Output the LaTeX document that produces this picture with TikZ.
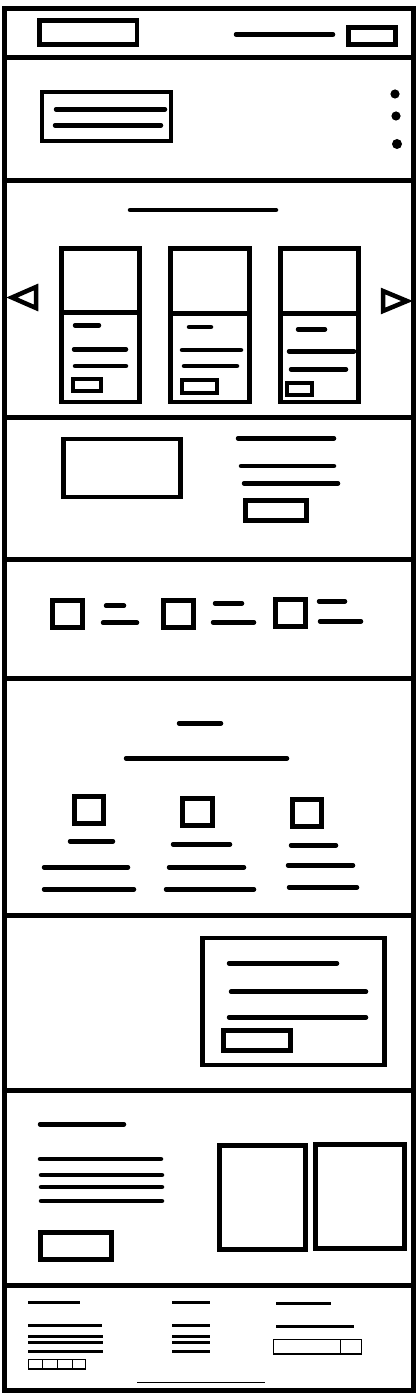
\documentclass[tikz,border=0pt]{standalone}
\begin{document}
\begin{tikzpicture}[x=1pt,y=-1pt,
  frame/.style={draw=black,line width=5pt},
  box/.style={draw=black,line width=4.5pt},
  bar/.style={draw=black,line width=4.5pt,line cap=round},
  fbar/.style={draw=black,line width=3pt},
  thin/.style={draw=black,line width=1.2pt}]
\useasboundingbox[fill=white] (0,0) rectangle (418,1396);
% outer frame and section dividers
\draw[frame] (4.5,8.5) rectangle (413.5,1390.5);
\foreach \y in {57.5,180.5,417,559.5,678.5,915,1090,1285.5}
  \draw[frame] (4.5,\y) -- (413.5,\y);
% header
\draw[box] (39.5,20.5) rectangle (137,44.5);
\draw[bar] (236,34.5) -- (333,34.5);
\draw[box] (348.5,27.5) rectangle (395.5,44.5);
% hero
\draw[box] (42,92) rectangle (171,141);
\draw[bar] (56,109.3) -- (165,109.3);
\draw[bar] (55,125.3) -- (161,125.3);
\fill (395,94) circle (4.6);
\fill (396,116) circle (4.6);
\fill (397,144) circle (5);
% carousel
\draw[bar] (130,210) -- (276,210);
\draw[box,line join=miter] (36,287) -- (12,297.5) -- (36,308) -- cycle;
\draw[box,line join=miter] (383,291) -- (407,301) -- (383,311) -- cycle;
% card 1
\draw[box] (61.3,248.3) rectangle (139.3,401.8);
\draw[box] (61.3,312.5) -- (139.3,312.5);
\draw[bar] (75,325.3) -- (99,325.3);
\draw[bar] (74,349.3) -- (126,349.3);
\draw[bar] (75,366) -- (126,366);
\draw[box] (73,379) rectangle (101,391);
% card 2
\draw[box] (170.5,248.3) rectangle (249.5,401.8);
\draw[box] (170.5,313.5) -- (249.5,313.5);
\draw[bar] (189,327) -- (211,327);
\draw[bar] (182,350) -- (241,350);
\draw[bar] (184,366) -- (237,366);
\draw[box] (182,380) rectangle (217,393);
% card 3
\draw[box] (280.5,248.3) rectangle (358.5,401.8);
\draw[box] (280.5,313.5) -- (360,313.5);
\draw[bar] (298,329.3) -- (325,329.3);
\draw[bar] (289,351.3) -- (354,351.3);
\draw[bar] (291,369.3) -- (346,369.3);
\draw[box] (287,383) rectangle (312,395);
% feature
\draw[box] (63.5,439) rectangle (180.5,497);
\draw[bar] (238,438.3) -- (334,438.3);
\draw[bar] (241,466) -- (334,466);
\draw[bar] (244,483.3) -- (338,483.3);
\draw[box] (245.5,500.5) rectangle (306.5,520.5);
% icons row
\draw[box] (52.5,600.5) rectangle (82.5,627.5);
\draw[bar] (106,605.7) -- (124,605.7);
\draw[bar] (103,622.7) -- (137,622.7);
\draw[box] (163.5,600.5) rectangle (193.5,627.5);
\draw[bar] (215,603.3) -- (242,603.3);
\draw[bar] (213,622.3) -- (254,622.3);
\draw[box] (275.5,599.5) rectangle (305.5,626.5);
\draw[bar] (319,601.3) -- (345,601.3);
\draw[bar] (320,621.3) -- (361,621.3);
% benefits
\draw[bar] (179,723.3) -- (221,723.3);
\draw[bar] (126,758.3) -- (287,758.3);
\draw[box] (74.5,796.5) rectangle (103.5,823.5);
\draw[box] (182.5,798.5) rectangle (212.5,825.5);
\draw[box] (292.5,799.5) rectangle (321.5,826.5);
\draw[bar] (70,841.3) -- (113,841.3);
\draw[bar] (44,867.3) -- (128,867.3);
\draw[bar] (44,889.3) -- (134,889.3);
\draw[bar] (173,844.3) -- (230,844.3);
\draw[bar] (169,867.3) -- (244,867.3);
\draw[bar] (166,889.3) -- (254,889.3);
\draw[bar] (291,845.3) -- (336,845.3);
\draw[bar] (288,865.3) -- (353,865.3);
\draw[bar] (289,887.3) -- (357,887.3);
% cta
\draw[box] (202.5,938) rectangle (384.5,1065);
\draw[bar] (229,963.3) -- (337,963.3);
\draw[bar] (231,991.7) -- (366,991.7);
\draw[bar] (229,1017.3) -- (366,1017.3);
\draw[box] (223.5,1030.5) rectangle (290.5,1050.5);
% gallery
\draw[bar] (40,1124.3) -- (124,1124.3);
\draw[bar] (40,1159) -- (161,1159);
\draw[bar] (41,1175) -- (162,1175);
\draw[bar] (41,1187) -- (162,1187);
\draw[bar] (41,1201) -- (162,1201);
\draw[box] (40.5,1232.5) rectangle (111.5,1259.5);
\draw[box] (219.5,1145.5) rectangle (305.5,1249.5);
\draw[box] (315.5,1144.5) rectangle (404.5,1248.5);
% footer
\draw[fbar] (28,1302.3) -- (80,1302.3);
\draw[fbar] (28,1325) -- (102,1325);
\draw[fbar] (28,1336) -- (103,1336);
\draw[fbar] (28,1342.7) -- (103,1342.7);
\draw[fbar] (28,1351.7) -- (103,1351.7);
\draw[thin] (28.5,1359.5) rectangle (85.5,1369);
\foreach \x in {42.7,57.7,72.7} \draw[thin] (\x,1359.5) -- (\x,1369);
\draw[fbar] (172,1302.3) -- (210,1302.3);
\draw[fbar] (172,1325) -- (210,1325);
\draw[fbar] (172,1336) -- (210,1336);
\draw[fbar] (172,1342.7) -- (210,1342.7);
\draw[fbar] (172,1351.7) -- (210,1351.7);
\draw[fbar] (276,1303.3) -- (331,1303.3);
\draw[fbar] (276,1326) -- (354,1326);
\draw[thin] (273.5,1339.5) rectangle (361.5,1354);
\draw[thin] (340.7,1339.5) -- (340.7,1354);
\draw[thin] (137,1382.3) -- (265,1382.3);
\end{tikzpicture}
\end{document}
